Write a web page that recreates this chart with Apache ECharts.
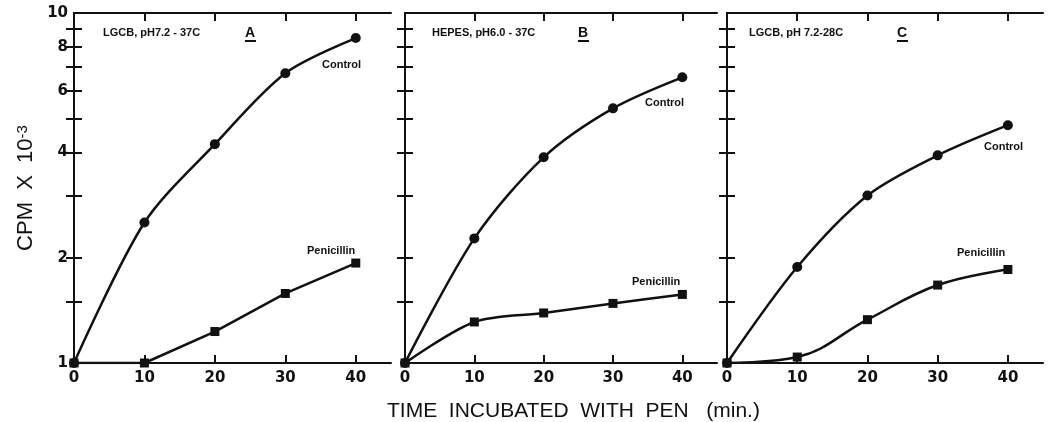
<!DOCTYPE html>
<html>
<head>
<meta charset="utf-8">
<script src="https://cdn.jsdelivr.net/npm/echarts@6/dist/echarts.min.js"></script>
<style>
  html, body { margin: 0; padding: 0; background: #fff; }
  #chart { width: 1051px; height: 422px; }
</style>
</head>
<body>
<div id="chart"></div>
<script>
// time points (min) and CPM x 10^-3
const times = [0, 10, 20, 30, 40];
const controlA = [1.0, 2.52, 4.22, 6.73, 8.48];
const penA = [1.0, 1.0, 1.23, 1.58, 1.93];
const controlB = [1.0, 2.27, 3.87, 5.34, 6.55];
const penB = [1.0, 1.31, 1.39, 1.48, 1.57];
const controlC = [1.0, 1.88, 3.01, 3.92, 4.78];
const penC = [1.0, 1.04, 1.33, 1.67, 1.85];

const xTickValues = [10, 20, 30, 40];
const xLabelValues = [0, 10, 20, 30, 40];
const yTickValues = [1.5, 2, 3, 4, 5, 6, 7, 8, 9];
const yLabelValues = [1, 2, 4, 6, 8, 10];

const ink = '#111';
const chart = echarts.init(document.getElementById('chart'));

const grids = [
  { left: 74, top: 13, width: 317, height: 350 },
  { left: 405, top: 13, width: 312, height: 350 },
  { left: 727, top: 13, width: 316, height: 350 }
];

const line = { lineStyle: { color: ink, width: 2 } };
const tick = (vals) => ({ inside: true, length: 8, customValues: vals, lineStyle: { color: ink, width: 2 } });
const labelFont = { color: ink, fontSize: 15, fontWeight: 'bold', fontFamily: 'DejaVu Sans' };

const xAxis = [];
const yAxis = [];
grids.forEach((g, i) => {
  ['bottom', 'top'].forEach(pos => {
    xAxis.push({
      gridIndex: i, type: 'value', min: 0, max: 45, position: pos,
      axisLine: line, axisTick: tick(xTickValues), splitLine: { show: false },
      axisLabel: pos === 'bottom'
        ? Object.assign({ customValues: xLabelValues, margin: 8 }, labelFont)
        : { show: false }
    });
  });
  ['left', 'right'].forEach(pos => {
    yAxis.push({
      gridIndex: i, type: 'log', logBase: 10, min: 1, max: 10, position: pos,
      axisLine: line, axisTick: tick(yTickValues), splitLine: { show: false }, minorTick: { show: false },
      axisLabel: (pos === 'left' && i === 0)
        ? Object.assign({ customValues: yLabelValues, margin: 6, formatter: v => String(Math.round(v)) }, labelFont)
        : { show: false }
    });
  });
});

function curve(i, data, symbol, smooth) {
  return {
    type: 'line', xAxisIndex: 2 * i, yAxisIndex: 2 * i,
    data: times.map((t, k) => [t, data[k]]),
    symbol: symbol, symbolSize: symbol === 'rect' ? 9 : 10, smooth: smooth,
    itemStyle: { color: ink }, lineStyle: { color: ink, width: 2.5 },
    animation: false, silent: true
  };
}

const series = [
  curve(0, controlA, 'circle', 0.3),
  curve(0, penA, 'rect', false),
  curve(1, controlB, 'circle', 0.3),
  curve(1, penB, 'rect', 0.3),
  curve(2, controlC, 'circle', 0.3),
  curve(2, penC, 'rect', 0.4)
];

const small = (text, x, y, size) => ({
  type: 'text', x: x, y: y,
  style: { text: text, fill: ink, font: 'bold ' + (size || 11) + 'px "Liberation Sans"', align: 'left', verticalAlign: 'middle' }
});
const letter = (text, x, y) => [
  small(text, x, y, 14),
  { type: 'line', shape: { x1: x, y1: y + 8, x2: x + 11, y2: y + 8 }, style: { stroke: ink, lineWidth: 2 } }
];

const graphic = [
  small('LGCB, pH7.2 - 37C', 103, 33),
  ...letter('A', 245, 33),
  small('HEPES, pH6.0 - 37C', 432, 33),
  ...letter('B', 578, 33),
  small('LGCB, pH 7.2-28C', 749, 33),
  ...letter('C', 897, 33),
  small('Control', 322, 65),
  small('Control', 645, 103),
  small('Control', 984, 147),
  small('Penicillin', 307, 251),
  small('Penicillin', 632, 282),
  small('Penicillin', 957, 253),
  {
    type: 'text', x: 387, y: 411,
    style: { text: 'TIME  INCUBATED  WITH  PEN   (min.)', fill: ink, font: '21px "Liberation Sans"', align: 'left', verticalAlign: 'middle' }
  },
  {
    type: 'text', x: 26, y: 188, rotation: Math.PI / 2,
    style: {
      text: 'CPM  X  10{sup|-3}', fill: ink, font: '22px "Liberation Sans"', align: 'center', verticalAlign: 'middle',
      rich: { sup: { fontSize: 15, fontFamily: 'Liberation Sans', verticalAlign: 'top', fill: ink } }
    }
  }
];

chart.setOption({
  backgroundColor: '#fff',
  animation: false,
  grid: grids,
  xAxis: xAxis,
  yAxis: yAxis,
  series: series,
  graphic: graphic
});
</script>
</body>
</html>
